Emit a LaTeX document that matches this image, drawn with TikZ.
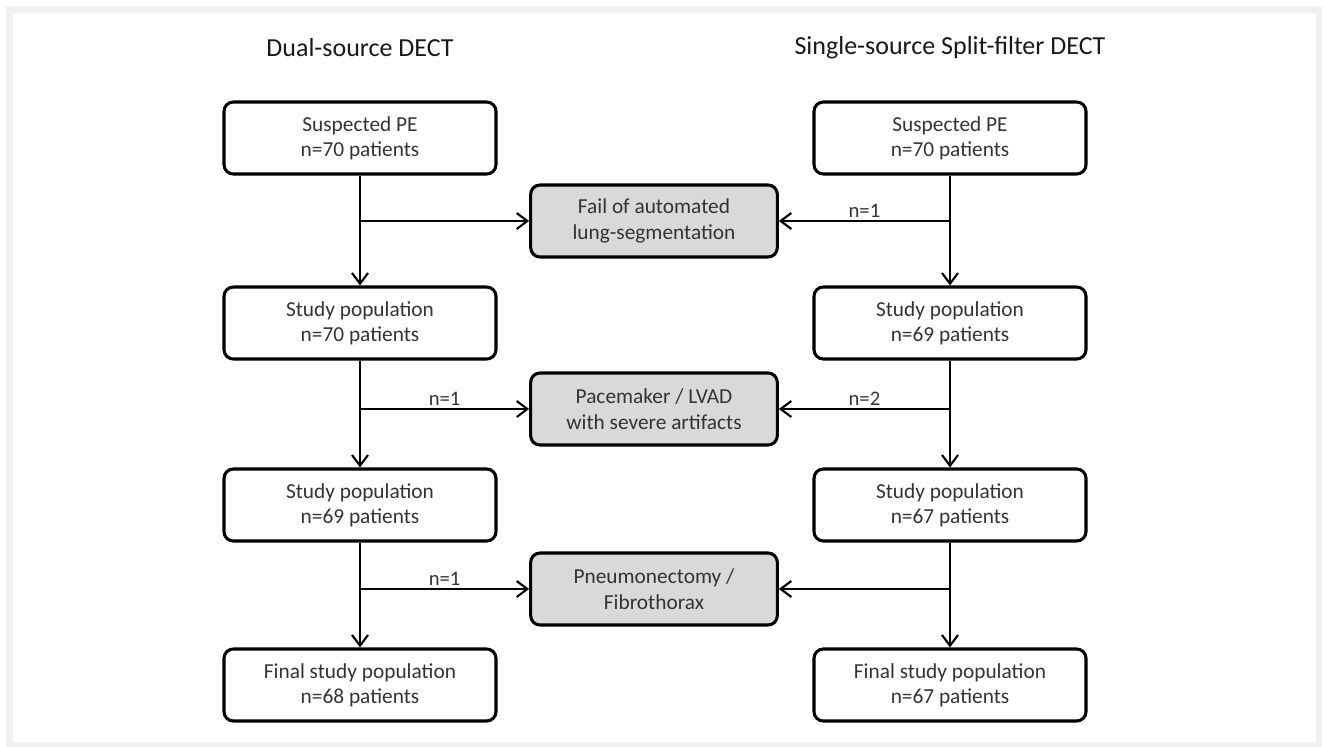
\documentclass[tikz,border=0pt]{standalone}
\usepackage{fontspec}
\setmainfont{Carlito}
\usetikzlibrary{arrows.meta}

\begin{document}
\begin{tikzpicture}[x=0.75pt,y=-0.75pt,
    box/.style={rectangle,rounded corners=7pt,draw,line width=2.3pt,minimum width=204pt,minimum height=54pt,align=center,text=black!80,font=\fontsize{16}{19}\selectfont},
    excl/.style={box,fill=black!15,minimum width=185pt},
    title/.style={text=black!90,font=\fontsize{19.5}{23}\selectfont},
    flow/.style={-{Straight Barb[length=8pt,width=12pt]},line width=1.6pt},
    count/.style={above,inner sep=2pt,text=black!80,font=\fontsize{15.5}{18}\selectfont}]
  \useasboundingbox (0,0) rectangle (1323,746);
  \draw[line width=5pt,black!6] (9.5,9.5) rectangle (1319,745);

  % column titles
  \node[title] (dualtitle) at (360,48) {Dual-source DECT};
  \node[title] (splittitle) at (950,48) {Single-source Split-filter DECT};

  % dual-source column
  \node[box] (d1) at (360,138) {Suspected PE\\n=70 patients};
  \node[box] (d2) at (360,323) {Study population\\n=70 patients};
  \node[box] (d3) at (360,505) {Study population\\n=69 patients};
  \node[box] (d4) at (360,685) {Final study population\\n=68 patients};

  % split-filter column
  \node[box] (s1) at (950,138) {Suspected PE\\n=70 patients};
  \node[box] (s2) at (950,323) {Study population\\n=69 patients};
  \node[box] (s3) at (950,505) {Study population\\n=67 patients};
  \node[box] (s4) at (950,685) {Final study population\\n=67 patients};

  % exclusions
  \node[excl] (fail) at (654,221) {Fail of automated\\lung-segmentation};
  \node[excl] (device) at (654,409) {Pacemaker / LVAD\\with severe artifacts};
  \node[excl] (lung) at (654,589) {Pneumonectomy /\\Fibrothorax};

  \draw[flow] (d1) -- (d2);
  \draw[flow] (d2) -- (d3);
  \draw[flow] (d3) -- (d4);
  \draw[flow] (s1) -- (s2);
  \draw[flow] (s2) -- (s3);
  \draw[flow] (s3) -- (s4);

  \draw[flow] (d1 |- fail) -- (fail);
  \draw[flow] (s1 |- fail) -- node[count] {n=1} (fail);
  \draw[flow] (d2 |- device) -- node[count] {n=1} (device);
  \draw[flow] (s2 |- device) -- node[count] {n=2} (device);
  \draw[flow] (d3 |- lung) -- node[count] {n=1} (lung);
  \draw[flow] (s3 |- lung) -- (lung);
\end{tikzpicture}
\end{document}
